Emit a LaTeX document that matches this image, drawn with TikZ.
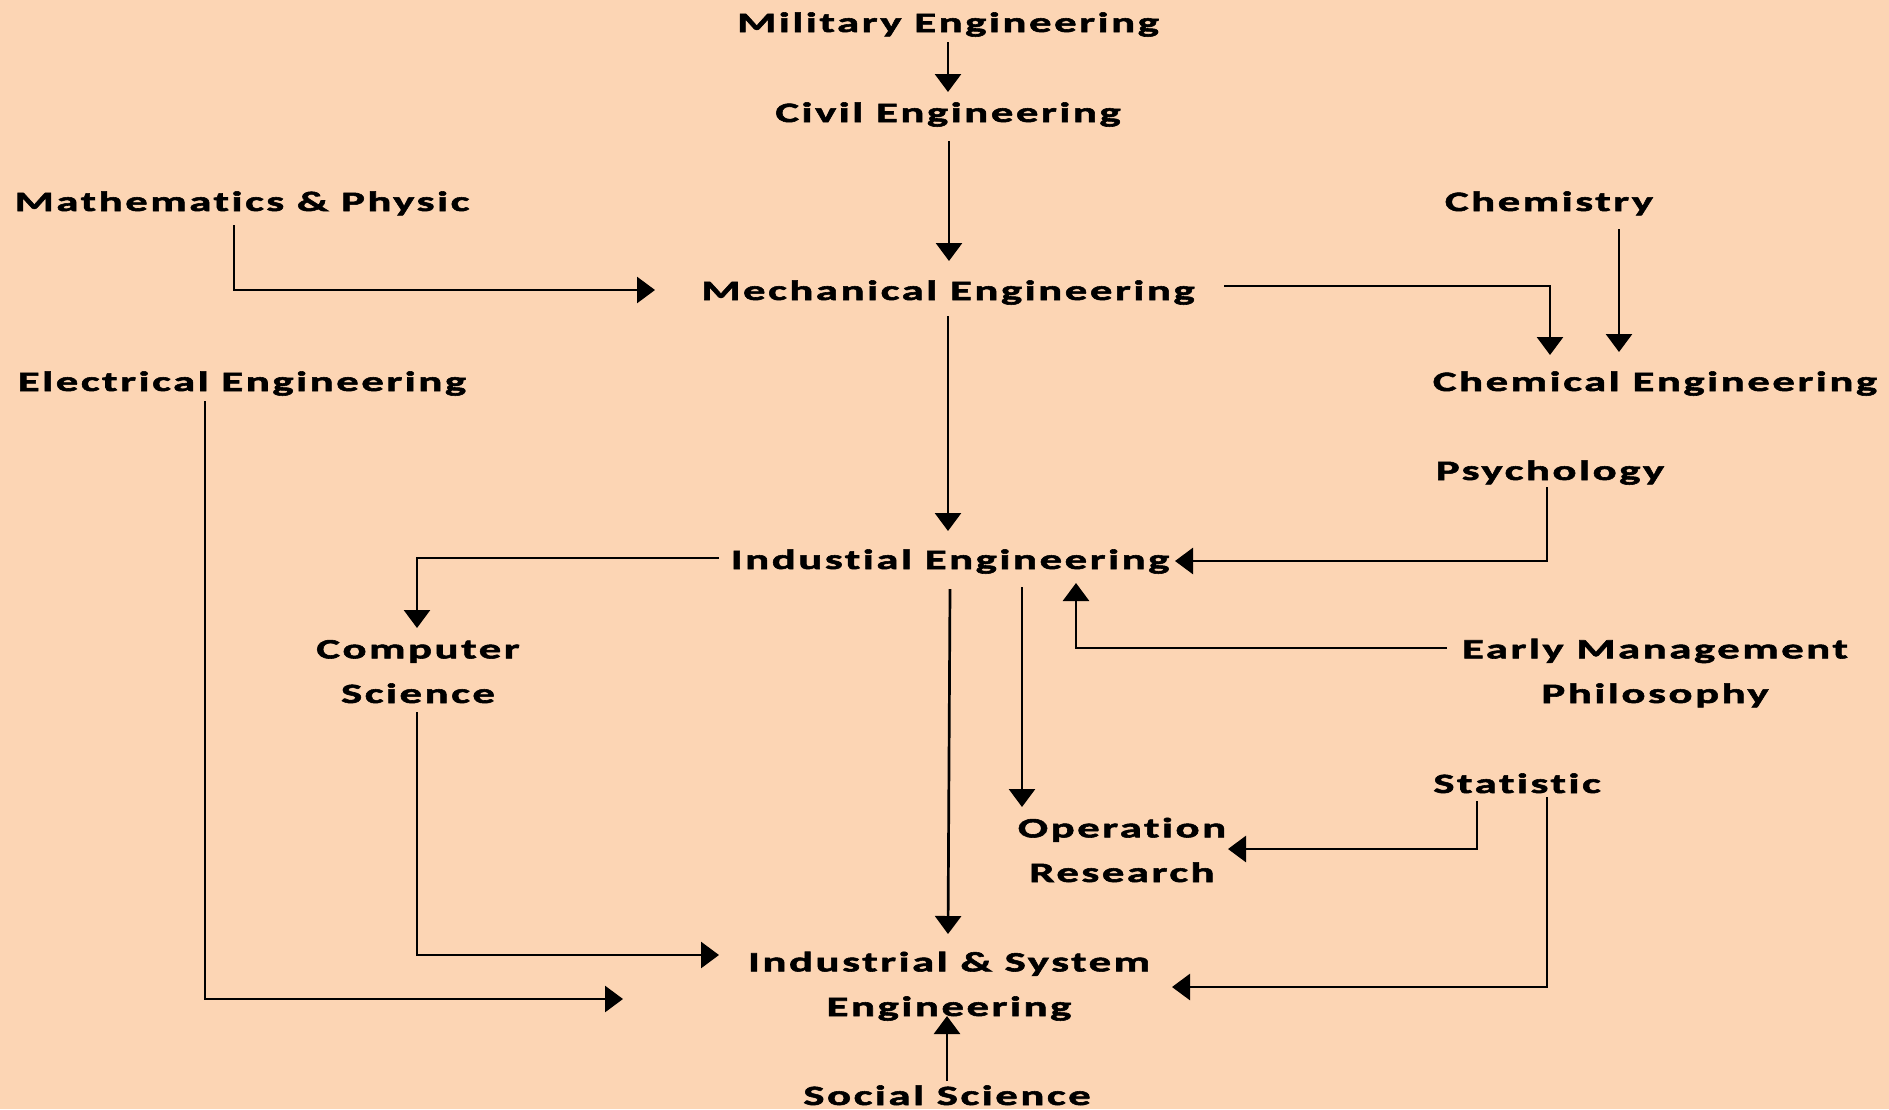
\documentclass[tikz,border=0pt]{standalone}
\usepackage{fontspec}
\usetikzlibrary{arrows.meta,calc}
\newfontfamily\labelfont{Carlito}[FakeStretch=1.6,LetterSpace=9,FakeBold=2,RawFeature=-liga]
\definecolor{peach}{RGB}{252,213,180}
\tikzset{
  lbl/.style={font=\labelfont\bfseries\fontsize{28}{44.6}\selectfont,
              inner sep=0pt, anchor=base, align=center},
  link/.style={line width=2.7pt, -{Triangle[length=18pt,width=26pt]}},
}
\begin{document}
\begin{tikzpicture}[x=1pt,y=-1pt]
  \fill[peach] (0,0) rectangle (1889,1109);
  \useasboundingbox (0,0) rectangle (1889,1109);

  % disciplines (two-line labels are placed by their last baseline)
  \node[lbl] (mil)   at (948,32)   {Military Engineering};
  \node[lbl] (civ)   at (948,122)  {Civil Engineering};
  \node[lbl] (math)  at (242,211)  {Mathematics \& Physic};
  \node[lbl] (chem)  at (1549,211) {Chemistry};
  \node[lbl] (mech)  at (948,300)  {Mechanical Engineering};
  \node[lbl] (cheme) at (1655,391) {Chemical Engineering};
  \node[lbl] (elec)  at (242,391)  {Electrical Engineering};
  \node[lbl] (psy)   at (1550,480) {Psychology};
  \node[lbl] (ie)    at (950,569)  {Industial Engineering};
  \node[lbl] (cs)    at (418,703)  {Computer\\Science};
  \node[lbl] (emp)   at (1655,703) {Early Management\\Philosophy};
  \node[lbl] (stat)  at (1517,793) {Statistic};
  \node[lbl] (or)    at (1122,882) {Operation\\Research};
  \node[lbl] (ise)   at (949,1016) {Industrial \& System\\Engineering};
  \node[lbl] (soc)   at (947,1105) {Social Science};

  % lineage
  \draw[link] ($(mil.base)+(0,10)$) -- ($(civ.base)+(0,-30)$);
  \draw[link] ($(civ.base)+(1,19)$) -- ($(mech.base)+(1,-39)$);
  \draw[link] ($(math.base)+(-8,14)$) |- ($(mech.base)+(-293,-10)$);
  \draw[link] ($(mech.base)+(276,-14)$) -| ($(cheme.base)+(-105,-36)$);
  \draw[link] ($(chem.base)+(70,18)$) -- ($(cheme.base)+(-36,-39)$);
  \draw[link] ($(mech.base)+(0,16)$) -- ($(ie.base)+(-2,-38)$);
  \draw[link] ($(psy.base)+(-3,7)$) |- ($(ie.base)+(225,-8)$);
  \draw[link] ($(ie.base)+(-231,-11)$) -| ($(cs.base)+(-1,-75)$);
  \draw[link] ($(emp.base)+(-208,-55)$) -| ($(ie.base)+(126,14)$);
  \draw[link] ($(ie.base)+(72,18)$) -- ($(or.base)+(-100,-75)$);
  \draw[link] ($(ie.base)+(0,20)$) -- ($(ise.base)+(-1,-82)$);
  \draw[link] ($(stat.base)+(-40,8)$) |- ($(or.base)+(106,-33)$);
  \draw[link] ($(stat.base)+(30,4)$) |- ($(ise.base)+(223,-29)$);
  \draw[link] ($(cs.base)+(-1,9)$) |- ($(ise.base)+(-230,-61)$);
  \draw[link] ($(elec.base)+(-37,10)$) |- ($(ise.base)+(-326,-17)$);
  \draw[link] ($(soc.base)+(0,-24)$) -- ($(ise.base)+(-2,0)$);
\end{tikzpicture}
\end{document}
